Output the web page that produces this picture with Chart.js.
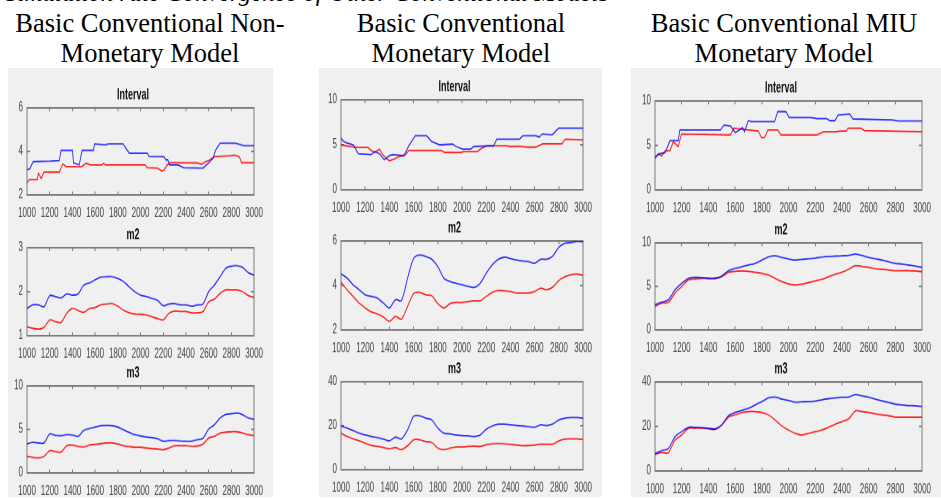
<!DOCTYPE html>
<html>
<head>
<meta charset="utf-8">
<script src="https://cdn.jsdelivr.net/npm/chart.js@4"></script>
<style>
body { margin: 0; width: 941px; height: 499px; background: #fff; position: relative; overflow: hidden; font-family: "Liberation Serif", "Times New Roman", serif; }
.panel { position: absolute; top: 68px; height: 429px; background: #f0f0f0; }
.head { position: absolute; top: 8px; width: 330px; text-align: center; font-size: 26.5px; line-height: 30px; color: #000; }
.cut { position: absolute; top: -22px; left: 5px; font-style: italic; font-size: 25px; line-height: 30px; white-space: nowrap; }
.box { position: absolute; transform-origin: 0 0; }
</style>
</head>
<body>
<div class="cut">Simulation rate Convergence of Other Conventional Models</div>
<div class="panel" style="left:8px;width:265px"></div>
<div class="panel" style="left:319px;width:283px"></div>
<div class="panel" style="left:631px;width:310px"></div>
<div class="head" style="left:-15px">Basic Conventional Non-<br>Monetary Model</div>
<div class="head" style="left:296px">Basic Conventional<br>Monetary Model</div>
<div class="head" style="left:619px">Basic Conventional MIU<br>Monetary Model</div>
<script>
// shared x values for the smooth series (m2, m3)
const xs = [1000, 1050, 1100, 1150, 1200, 1250, 1300, 1350, 1400, 1450, 1500, 1550, 1600, 1650, 1700, 1750, 1800, 1850, 1900, 1950, 2000,
    2050, 2100, 2150, 2200, 2250, 2300, 2350, 2400, 2450, 2500, 2550, 2600, 2650, 2700, 2750, 2800, 2850, 2900, 2950, 3000]

// Non-monetary model
const nonIntBlueX = [1000, 1025, 1055, 1200, 1285, 1300, 1400, 1410, 1460, 1485, 1585, 1595, 1690, 1715, 1845, 1900, 2060, 2075, 2205, 2225, 2240, 2255, 2330, 2380, 2550, 2600, 2640, 2660, 2700, 2840, 2910, 3000]
const nonIntBlue = [3.15, 3.2, 3.53, 3.55, 3.58, 4.05, 4.05, 3.47, 3.38, 4.05, 4.05, 4.35, 4.3, 4.35, 4.35, 3.92, 3.92, 3.77, 3.76, 3.6, 3.62, 3.38, 3.38, 3.25, 3.23, 3.47, 3.7, 4.05, 4.38, 4.38, 4.26, 4.26]
const nonIntRedX = [1000, 1020, 1040, 1090, 1100, 1125, 1150, 1285, 1315, 1345, 1480, 1520, 1560, 1660, 1675, 1690, 2040, 2060, 2150, 2185, 2205, 2230, 2260, 2500, 2540, 2560, 2600, 2650, 2780, 2830, 2870, 2890, 3000]
const nonIntRed = [2.55, 2.7, 2.7, 2.7, 3.0, 2.75, 3.05, 3.05, 3.42, 3.3, 3.3, 3.45, 3.38, 3.38, 3.45, 3.38, 3.38, 3.25, 3.23, 3.1, 3.12, 3.35, 3.48, 3.47, 3.4, 3.5, 3.58, 3.76, 3.8, 3.83, 3.75, 3.48, 3.48]
const nonM2Blue = [1.62, 1.7, 1.7, 1.66, 1.91, 1.89, 1.86, 1.95, 1.92, 1.95, 2.15, 2.2, 2.27, 2.33, 2.34, 2.34, 2.3, 2.23, 2.11, 2.0, 1.92,
    1.89, 1.85, 1.8, 1.68, 1.72, 1.73, 1.7, 1.7, 1.67, 1.7, 1.72, 2.0, 2.15, 2.34, 2.53, 2.58, 2.59, 2.55, 2.43, 2.38]
const nonM2Red = [1.2, 1.17, 1.15, 1.19, 1.36, 1.32, 1.3, 1.51, 1.62, 1.57, 1.53, 1.62, 1.64, 1.7, 1.72, 1.73, 1.67, 1.58, 1.52, 1.49, 1.49,
    1.47, 1.43, 1.39, 1.36, 1.51, 1.56, 1.55, 1.55, 1.52, 1.52, 1.55, 1.77, 1.83, 1.96, 2.04, 2.04, 2.04, 2.0, 1.91, 1.87]
const nonM3Blue = [3.32, 3.51, 3.44, 3.44, 4.47, 4.31, 4.27, 4.39, 4.35, 4.2, 4.89, 5.11, 5.27, 5.42, 5.46, 5.42, 5.27, 4.96, 4.66, 4.39, 4.24,
    4.12, 4.05, 3.93, 3.63, 3.7, 3.74, 3.66, 3.63, 3.63, 3.82, 4.0, 5.04, 5.53, 6.3, 6.72, 6.8, 6.87, 6.68, 6.3, 6.15]
const nonM3Red = [1.91, 1.79, 1.72, 1.91, 2.56, 2.44, 2.4, 3.13, 3.2, 3.05, 2.98, 3.2, 3.28, 3.36, 3.44, 3.44, 3.32, 3.13, 3.02, 2.94, 2.94,
    2.86, 2.79, 2.75, 2.67, 2.86, 3.13, 3.13, 3.13, 3.05, 3.09, 3.32, 4.0, 4.2, 4.58, 4.69, 4.73, 4.73, 4.58, 4.39, 4.27]

// Monetary model
const monIntBlueX = [1000, 1022, 1048, 1102, 1143, 1250, 1277, 1318, 1358, 1398, 1425, 1520, 1560, 1614, 1708, 1748, 1815, 1923, 1950, 2004, 2071, 2098, 2233, 2260, 2287, 2475, 2502, 2610, 2637, 2664, 2744, 2798, 3000]
const monIntBlue = [5.74, 5.37, 5.19, 5.0, 4.0, 3.9, 4.26, 4.0, 3.33, 3.78, 3.9, 3.78, 4.89, 6.0, 6.0, 5.37, 5.0, 5.07, 4.81, 4.52, 4.52, 4.81, 4.89, 4.85, 5.63, 5.63, 6.0, 6.0, 5.85, 6.22, 6.1, 6.85, 6.85]
const monIntRedX = [1000, 1075, 1143, 1223, 1250, 1277, 1318, 1345, 1398, 1439, 1479, 1533, 1560, 1829, 1856, 1990, 2017, 2125, 2165, 2206, 2367, 2394, 2475, 2529, 2610, 2664, 2825, 2852, 3000]
const monIntRed = [5.0, 4.81, 4.7, 4.7, 4.37, 4.15, 4.52, 3.89, 3.22, 3.41, 3.7, 3.89, 4.37, 4.37, 4.15, 4.15, 4.26, 4.26, 4.63, 4.89, 4.89, 4.81, 4.85, 4.74, 4.74, 5.11, 5.11, 5.63, 5.56]
const monM2Blue = [4.52, 4.33, 4.03, 3.81, 3.58, 3.51, 3.43, 3.21, 2.99, 3.36, 3.33, 4.33, 5.22, 5.37, 5.3, 5.18, 4.85, 4.33, 4.18, 4.1, 4.03,
    3.96, 3.91, 4.1, 4.55, 4.93, 5.18, 5.27, 5.21, 5.15, 5.1, 5.07, 5.0, 5.18, 5.18, 5.33, 5.72, 5.9, 5.93, 5.99, 5.97]
const monM2Red = [4.15, 3.81, 3.51, 3.21, 2.99, 2.81, 2.73, 2.58, 2.39, 2.61, 2.49, 3.06, 3.63, 3.69, 3.58, 3.54, 3.18, 2.99, 3.18, 3.24, 3.24,
    3.28, 3.31, 3.31, 3.51, 3.69, 3.78, 3.76, 3.73, 3.66, 3.66, 3.66, 3.73, 3.88, 3.81, 3.93, 4.22, 4.4, 4.48, 4.51, 4.45]
const monM3Blue = [19.9, 18.9, 17.8, 16.6, 15.8, 15.1, 14.6, 13.9, 13.1, 14.8, 14.0, 18.1, 24.2, 24.5, 23.4, 22.6, 18.9, 16.6, 16.3, 15.8, 15.5,
    15.4, 15.1, 15.8, 18.4, 19.9, 20.7, 20.7, 20.4, 20.1, 19.9, 19.6, 19.3, 20.4, 20.1, 20.8, 22.6, 23.4, 23.7, 23.7, 23.4]
const monM3Red = [16.6, 15.1, 14.0, 13.1, 12.1, 11.0, 10.6, 10.1, 9.5, 10.1, 9.1, 10.9, 13.6, 13.6, 12.8, 12.4, 9.8, 9.1, 9.8, 10.3, 10.3,
    10.6, 10.7, 10.6, 11.3, 11.8, 11.9, 11.8, 11.5, 11.2, 10.9, 11.0, 11.2, 11.6, 11.5, 11.6, 13.1, 13.9, 14.0, 14.0, 13.7]

// MIU monetary model
const miuIntBlueX = [1000, 1027, 1076, 1112, 1174, 1186, 1491, 1516, 1565, 1601, 1638, 1655, 1670, 1699, 1724, 1895, 1919, 1980, 2005, 2164, 2213, 2286, 2311, 2347, 2372, 2457, 2482, 2775, 2824, 3000]
const miuIntBlue = [3.56, 4.04, 4.19, 5.54, 5.54, 6.74, 6.74, 7.3, 7.19, 6.44, 6.82, 7.0, 6.55, 7.79, 7.68, 7.68, 8.8, 8.8, 8.13, 8.13, 8.01, 8.01, 7.79, 7.79, 8.43, 8.54, 7.98, 7.87, 7.75, 7.75]
const miuIntRedX = [1000, 1027, 1051, 1076, 1112, 1137, 1161, 1174, 1198, 1565, 1589, 1773, 1797, 1822, 1846, 1919, 1944, 2213, 2262, 2359, 2384, 2433, 2445, 2543, 2567, 3000]
const miuIntRed = [3.75, 4.04, 3.82, 4.42, 4.42, 5.43, 5.06, 4.87, 6.29, 6.18, 6.93, 6.63, 5.88, 5.92, 6.74, 6.74, 6.18, 6.18, 6.55, 6.55, 6.63, 6.63, 6.93, 6.93, 6.67, 6.55]
const miuM2Blue = [2.89, 3.19, 3.46, 4.6, 5.36, 5.93, 6.05, 6.0, 5.93, 5.93, 6.2, 6.81, 7.07, 7.26, 7.45, 7.64, 8.02, 8.4, 8.52, 8.33, 8.14,
    8.02, 8.1, 8.17, 8.25, 8.37, 8.44, 8.48, 8.52, 8.56, 8.71, 8.56, 8.33, 8.17, 8.02, 7.83, 7.64, 7.57, 7.45, 7.34, 7.19]
const miuM2Red = [2.7, 3.08, 3.16, 4.22, 4.98, 5.74, 5.86, 5.93, 5.93, 5.93, 6.12, 6.62, 6.73, 6.77, 6.73, 6.62, 6.5, 6.31, 5.93, 5.55, 5.29,
    5.17, 5.25, 5.44, 5.63, 5.82, 6.12, 6.39, 6.62, 6.96, 7.38, 7.3, 7.19, 7.03, 6.96, 6.88, 6.81, 6.81, 6.81, 6.77, 6.69]
const miuM3Blue = [7.8, 9.1, 10.1, 15.4, 17.7, 19.6, 19.6, 19.5, 19.2, 18.9, 20.7, 24.8, 26.3, 27.2, 28.2, 29.7, 31.2, 32.8, 33.2, 32.3, 31.7,
    30.9, 31.1, 31.2, 31.4, 32.0, 32.5, 32.8, 33.1, 33.2, 34.4, 33.8, 33.1, 32.3, 31.5, 30.8, 30.0, 29.7, 29.4, 29.3, 29.0]
const miuM3Red = [7.5, 8.3, 8.2, 13.9, 16.2, 19.2, 19.2, 19.3, 19.0, 18.7, 20.7, 24.2, 25.2, 26.3, 26.7, 26.7, 26.3, 25.2, 22.9, 20.2, 18.4,
    16.9, 16.2, 16.9, 17.7, 18.4, 19.6, 21.0, 22.2, 23.4, 27.0, 26.7, 26.3, 25.7, 25.2, 24.8, 24.2, 24.2, 24.2, 24.2, 24.2]

const titles = ['Interval', 'm2', 'm3']

// plot areas (page px) and axis ranges for every small chart
const charts = [
    { left: 27, right: 259, top: 108, bottom: 195, title: titles[0], y: [2, 6, 2], bx: nonIntBlueX, b: nonIntBlue, rx: nonIntRedX, r: nonIntRed, smooth: false },
    { left: 27, right: 259, top: 248, bottom: 336, title: titles[1], y: [1, 3, 1], bx: xs, b: nonM2Blue, rx: xs, r: nonM2Red, smooth: true },
    { left: 27, right: 259, top: 386, bottom: 473, title: titles[2], y: [0, 10, 5], bx: xs, b: nonM3Blue, rx: xs, r: nonM3Red, smooth: true },
    { left: 341, right: 588, top: 100, bottom: 190, title: titles[0], y: [0, 10, 5], bx: monIntBlueX, b: monIntBlue, rx: monIntRedX, r: monIntRed, smooth: false },
    { left: 341, right: 588, top: 241, bottom: 330, title: titles[1], y: [2, 6, 2], bx: xs, b: monM2Blue, rx: xs, r: monM2Red, smooth: true },
    { left: 341, right: 588, top: 382, bottom: 470, title: titles[2], y: [0, 40, 20], bx: xs, b: monM3Blue, rx: xs, r: monM3Red, smooth: true },
    { left: 655, right: 927, top: 101, bottom: 190, title: titles[0], y: [0, 10, 5], bx: miuIntBlueX, b: miuIntBlue, rx: miuIntRedX, r: miuIntRed, smooth: false },
    { left: 655, right: 927, top: 243, bottom: 330, title: titles[1], y: [0, 10, 5], bx: xs, b: miuM2Blue, rx: xs, r: miuM2Red, smooth: true },
    { left: 655, right: 927, top: 382, bottom: 471, title: titles[2], y: [0, 40, 20], bx: xs, b: miuM3Blue, rx: xs, r: miuM3Red, smooth: true }
]

const K = 1.7          // vertical stretch of the matlab figures
const YW = 20, TH = 14, XH = 18, RP = 12
const AXIS = '#7d7d7d'
const FONT = '"Liberation Sans Narrow", "Liberation Sans", Arial, sans-serif'

function drawChart(p) {
    const rows = Math.round((p.bottom - p.top) / K)
    const k = (p.bottom - p.top) / rows
    const w = YW + (p.right - p.left) + RP
    const h = TH + rows + XH

    const box = document.createElement('div')
    box.className = 'box'
    box.style.left = (p.left - YW) + 'px'
    box.style.top = (p.top - TH * k) + 'px'
    box.style.width = w + 'px'
    box.style.height = h + 'px'
    box.style.transform = 'scaleY(' + k + ')'
    const cv = document.createElement('canvas')
    cv.width = w
    cv.height = h
    box.appendChild(cv)
    document.body.appendChild(box)

    const [yMin, yMax, yStep] = p.y
    const grid = len => ({ drawOnChartArea: false, drawTicks: true, tickLength: len, color: AXIS })
    const tickFont = { family: FONT, size: 8 }

    new Chart(cv, {
        type: 'line',
        data: {
            datasets: [
                { data: p.bx.map((x, i) => ({ x: x, y: p.b[i] })), borderColor: 'rgba(0,0,255,0.8)', borderWidth: 0.9, pointRadius: 0, tension: p.smooth ? 0.3 : 0 },
                { data: p.rx.map((x, i) => ({ x: x, y: p.r[i] })), borderColor: 'rgba(255,0,0,0.85)', borderWidth: 0.9, pointRadius: 0, tension: p.smooth ? 0.3 : 0 }
            ]
        },
        options: {
            responsive: false,
            animation: false,
            devicePixelRatio: 2,
            layout: { padding: { left: 0, right: RP, top: 0, bottom: 0 } },
            plugins: {
                legend: { display: false },
                tooltip: { enabled: false },
                title: {
                    display: true, text: p.title, color: '#111',
                    font: { family: FONT, size: 9, weight: 'bold', lineHeight: 1 },
                    padding: { top: 2, bottom: 3 }
                }
            },
            scales: {
                x: {
                    type: 'linear', position: 'bottom', min: 1000, max: 3000,
                    ticks: { stepSize: 200, autoSkip: false, maxRotation: 0, padding: 8, color: '#444', font: tickFont, callback: v => String(v) },
                    grid: grid(-2), border: { color: AXIS },
                    afterFit: s => { s.height = XH }
                },
                x2: {
                    type: 'linear', position: 'top', min: 1000, max: 3000,
                    ticks: { display: false, stepSize: 200 },
                    grid: grid(-2), border: { color: AXIS },
                    afterFit: s => { s.height = 0 }
                },
                y: {
                    type: 'linear', position: 'left', min: yMin, max: yMax,
                    ticks: { stepSize: yStep, padding: 7, color: '#444', font: tickFont, callback: v => String(v) },
                    grid: grid(-3), border: { color: AXIS },
                    afterFit: s => { s.width = YW }
                },
                y2: {
                    type: 'linear', position: 'right', min: yMin, max: yMax,
                    ticks: { display: false, stepSize: yStep },
                    grid: grid(-3), border: { color: AXIS },
                    afterFit: s => { s.width = 0 }
                }
            }
        }
    })
}

charts.forEach(drawChart)
</script>
</body>
</html>
